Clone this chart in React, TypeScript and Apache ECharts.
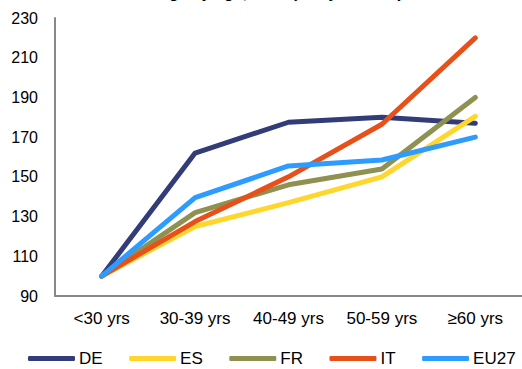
import React, { useEffect, useRef } from "react";
import * as echarts from "echarts";

const categories = ["<30 yrs", "30-39 yrs", "40-49 yrs", "50-59 yrs", "≥60 yrs"];
const seriesNames = ["DE", "ES", "FR", "IT", "EU27"];
const deValues = [100, 162, 177.5, 180, 177];
const esValues = [100, 125, 137, 150, 180.5];
const frValues = [100, 132, 146, 154, 190];
const itValues = [100, 127.5, 150, 176.5, 220];
const eu27Values = [100, 139.5, 155.5, 158.5, 170];
const colors = ["#313C78", "#FFD62B", "#8E9150", "#E8501A", "#2E9CFF"];
const yTicks = { min: 90, max: 230, interval: 20 };

export default function App() {
  const ref = useRef<HTMLDivElement>(null);
  useEffect(() => {
    if (!ref.current) return;
    const chart = echarts.init(ref.current, null, { renderer: "svg" });
    const data = [deValues, esValues, frValues, itValues, eu27Values];
    chart.setOption({
      animation: false,
      textStyle: { fontFamily: "Liberation Sans, Arial, sans-serif" },
      title: {
        text: "Earnings by age, 2018 (<30 yrs = 100)",
        left: "center",
        top: -21,
        textStyle: { fontSize: 16, fontWeight: "bold", color: "#000", fontFamily: "Liberation Sans, Arial, sans-serif" },
      },
      grid: { left: 55, right: 0, top: 18, bottom: 73 },
      xAxis: {
        type: "category",
        data: categories,
        boundaryGap: true,
        axisLine: { lineStyle: { color: "#888", width: 2 } },
        axisTick: { show: false },
        axisLabel: { color: "#000", fontSize: 17, margin: 14 },
      },
      yAxis: {
        type: "value",
        min: yTicks.min,
        max: yTicks.max,
        interval: yTicks.interval,
        axisLine: { show: true, lineStyle: { color: "#888", width: 2 } },
        axisTick: { show: false },
        splitLine: { show: false },
        axisLabel: { color: "#000", fontSize: 16, margin: 17 },
      },
      legend: {
        bottom: -3,
        left: 23,
        icon: "roundRect",
        itemWidth: 47,
        itemHeight: 5,
        itemGap: 26.5,
        textStyle: { color: "#000", fontSize: 17, padding: [0, 0, 0, -1] },
        data: seriesNames,
      },
      series: seriesNames.map((name, i) => ({
        name,
        type: "line",
        data: data[i],
        showSymbol: false,
        symbol: "none",
        lineStyle: { width: 5, color: colors[i], cap: "round", join: "round" },
        itemStyle: { color: colors[i] },
      })),
    });
    return () => chart.dispose();
  }, []);
  return (
    <div
      ref={ref}
      style={{ position: "absolute", left: 0, top: 0, width: 522, height: 369 }}
    />
  );
}
